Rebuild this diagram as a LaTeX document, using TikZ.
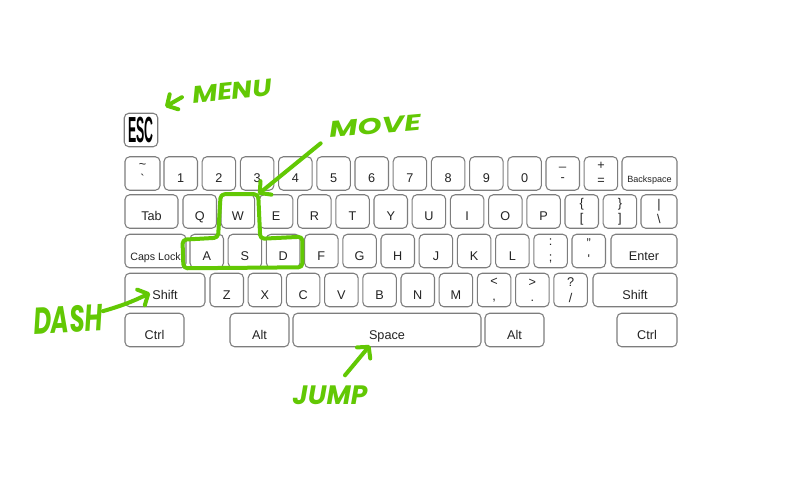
\documentclass[tikz,border=0pt]{standalone}
\usepackage{graphicx}
\usepackage{fontspec}
\setmainfont{Liberation Sans}
\newfontfamily\handfont{Poppins}
\usetikzlibrary{arrows.meta, positioning}

\definecolor{keyline}{RGB}{125,125,125}
\definecolor{keytext}{RGB}{35,35,35}
\definecolor{pen}{RGB}{98,200,4}
\newcommand\scrawl[3]{\resizebox{#1}{#2}{\handfont\bfseries\itshape #3}}

\tikzset{
    keyframe/.style={draw=keyline, fill=white, line width=0.8pt, rounded corners=3.5pt,
        minimum width=33.5*0.75pt, minimum height=33.5*0.75pt, inner sep=0pt,
        text=keytext, font={\fontsize{9.5}{11.5}\selectfont}},
    key/.style={keyframe, text height=14.2pt, text depth=0pt},
    dkey/.style={keyframe, align=center},
    keyw/.style={minimum width=#1*0.75pt},
    hand/.style={text=pen, inner sep=0pt},
    handline/.style={draw=pen, line width=3pt, line cap=round, line join=round},
    handarr/.style={handline, -{Straight Barb[length=6pt, width=13pt, round]}}
}

\begin{document}
\begin{tikzpicture}[x=0.75pt, y=-0.75pt]
            \fill[white] (0,0) rectangle (800,500);

            \node[keyframe, text=black] (kesc) at (141,130) {\resizebox{19pt}{19pt}{\bfseries ESC}};

            % number row
            \node[dkey, keyw=35] (ktilde) at (142.5,173.5) {\textasciitilde\\\textasciigrave};
            \foreach \kn [count=\i from 0] in {1,2,3,4,5,6,7,8,9,0}
                \node[key] (k\kn) at ({180.75+38.2*\i},173.5) {\kn};
            \node[dkey] (kminus) at ({180.75+38.2*10},173.5) {\_\\-};
            \node[dkey] (kplus) at ({180.75+38.2*11},173.5) {+\\=};
            \node[key, keyw=55, font={\fontsize{6.8}{8}\selectfont}] (kback) at (649.5,173.5) {Backspace};

            % top letter row
            \node[key, keyw=53] (ktab) at (151.5,211.5) {Tab};
            \foreach \kn/\kl [count=\i from 0] in {q/Q,w/W,e/E,r/R,t/T,y/Y,u/U,i/I,o/O,p/P}
                \node[key] (k\kn) at ({199.75+38.2*\i},211.5) {\kl};
            \node[dkey] (klbrack) at ({199.75+38.2*10},211.5) {\{\\{[}};
            \node[dkey] (krbrack) at ({199.75+38.2*11},211.5) {\}\\{]}};
            \node[dkey, keyw=36] (kpipe) at (659,211.5) {\textbar\\\textbackslash};

            % home row
            \node[key, keyw=61, font={\fontsize{8}{9}\selectfont}] (kcaps) at (155.5,251) {Caps Lock};
            \foreach \kn/\kl [count=\i from 0] in {a/A,s/S,d/D,f/F,g/G,h/H,j/J,k/K,l/L}
                \node[key] (k\kn) at ({206.75+38.2*\i},251) {\kl};
            \node[dkey] (ksemi) at ({206.75+38.2*9},251) {:\\;};
            \node[dkey] (kquote) at ({206.75+38.2*10},251) {"\\\textquotesingle};
            \node[key, keyw=66] (kenter) at (644,251) {Enter};

            % bottom letter row
            \node[key, keyw=80] (klshift) at (165,290) {Shift};
            \foreach \kn/\kl [count=\i from 0] in {z/Z,x/X,c/C,v/V,b/B,n/N,m/M}
                \node[key] (k\kn) at ({226.75+38.2*\i},290) {\kl};
            \node[dkey] (kcomma) at ({226.75+38.2*7},290) {<\\,};
            \node[dkey] (kperiod) at ({226.75+38.2*8},290) {>\\.};
            \node[dkey] (kslash) at ({226.75+38.2*9},290) {?\\/};
            \node[key, keyw=84] (krshift) at (635,290) {Shift};

            % space row
            \node[key, keyw=59] (klctrl) at (154.5,330) {Ctrl};
            \node[key, keyw=59] (klalt) at (259.5,330) {Alt};
            \node[key, keyw=188] (kspace) at (387,330) {Space};
            \node[key, keyw=59] (kralt) at (514.5,330) {Alt};
            \node[key, keyw=60] (krctrl) at (647,330) {Ctrl};

            % scribbles
            \node[hand, rotate=6] (menu) at (232,91) {\scrawl{60pt}{12.5pt}{MENU}};
            \node[hand, rotate=5] (move) at (375,126) {\scrawl{69pt}{12pt}{MOVE}};
            \node[hand, rotate=3] (dash) at (68,319) {\scrawl{52pt}{20pt}{DASH}};
            \node[hand] (jump) at (330,395) {\scrawl{56pt}{14pt}{JUMP}};

            \draw[handarr] ([shift={(-10,2)}]menu.west) -- ([shift={(7,-6)}]kesc.north east);
            \draw[handarr] ([shift={(-9,5)}]move.south west) -- ([shift={(3,0)}]kw.north east);
            \draw[handarr] ([shift={(0,-6)}]dash.east) to[bend right=5] ([shift={(-15,3)}]klshift.center);
            \draw[handarr] ([shift={(15,-10)}]jump.north) -- ([shift={(-17,-2)}]kspace.south);

            \draw[handline, rounded corners=3pt]
                (kw.north west) -- ([shift={(3,0)}]kw.north east) -- ([shift={(5,10)}]kw.south east)
                -- ([shift={(2,3)}]kd.north east) -- ([shift={(2,-1)}]kd.south east)
                -- ([shift={(-6,0)}]ka.south west) -- ([shift={(-7,6)}]ka.north west)
                -- ([shift={(-6,4)}]ka.north east) -- cycle;
\end{tikzpicture}
\end{document}
